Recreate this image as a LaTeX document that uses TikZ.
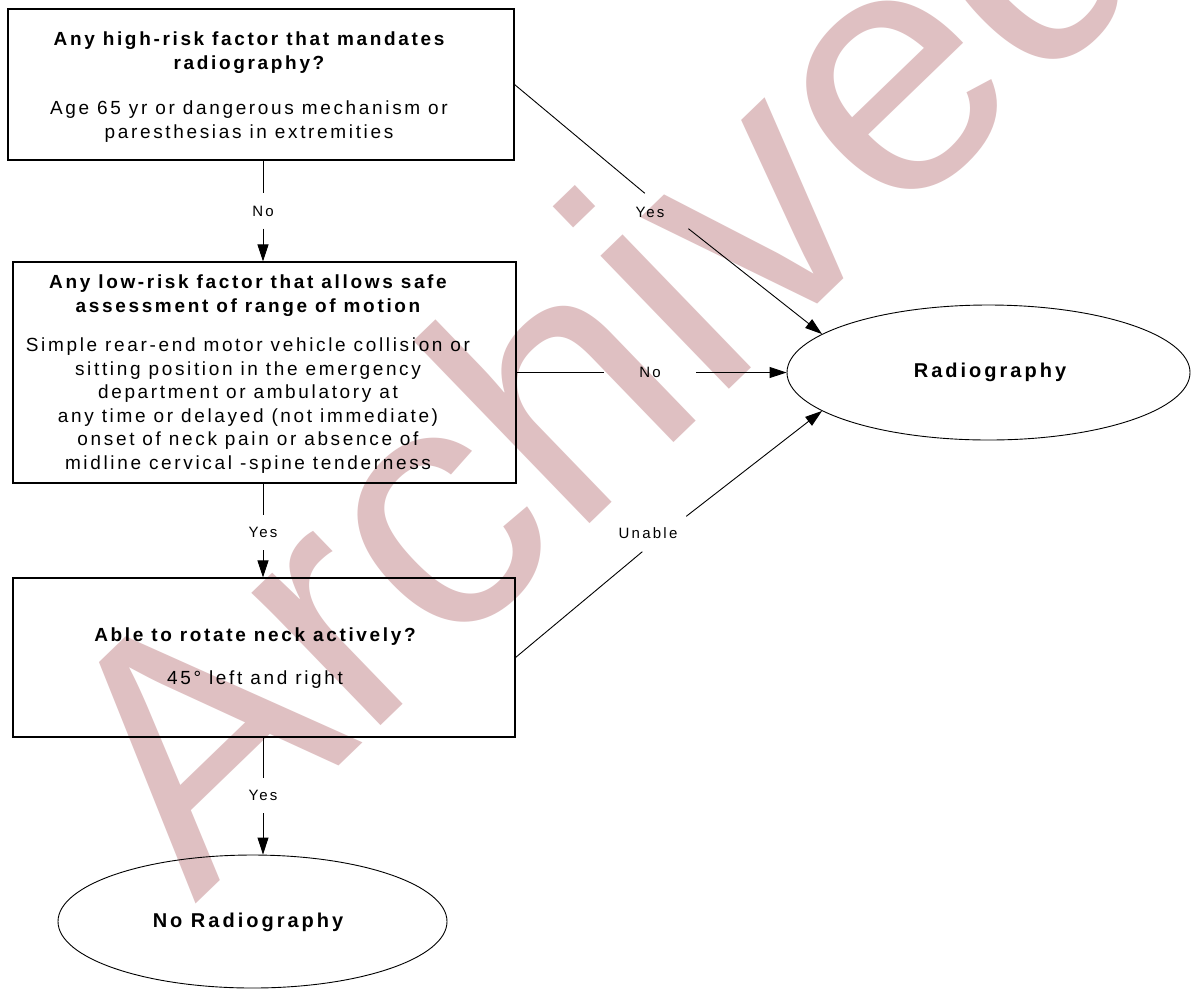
\documentclass[tikz,border=0pt]{standalone}
\usepackage{fontspec}
\setmainfont{Liberation Sans}
\newfontfamily\bodyf[LetterSpace=14]{Liberation Sans}
\newfontfamily\ellf[LetterSpace=15]{Liberation Sans}
\newfontfamily\lblf[LetterSpace=15]{Liberation Sans}
\newfontfamily\wmf{Liberation Sans}
\usetikzlibrary{arrows.meta,shapes.geometric}
\definecolor{wmcol}{RGB}{223,192,194}
\tikzset{
  box/.style={draw=black, line width=1.1pt, rectangle, inner sep=0pt},
  boxtext/.style={inner sep=0pt, align=center, font=\bodyf\fontsize{19}{24}\selectfont},
  endell/.style={draw=black, line width=0.9pt, ellipse, inner sep=0pt},
  elltext/.style={inner sep=0pt, font=\ellf\bfseries\fontsize{20}{24}\selectfont},
  gapnode/.style={rectangle, inner sep=0pt, minimum width=92pt, minimum height=35pt, font=\lblf\fontsize{15}{18}\selectfont},
  lbltext/.style={inner sep=0pt, font=\lblf\fontsize{15}{18}\selectfont},
  conn/.style={draw=black, line width=0.9pt},
  arr/.style={conn, -{Triangle[length=17pt,width=11pt]}},
  wmtext/.style={text=wmcol, font=\wmf\fontsize{350}{350}\selectfont, inner sep=0pt}
}
\begin{document}
\begin{tikzpicture}[x=1pt,y=-1pt]
\useasboundingbox (0,0) rectangle (1191,989);
\fill[white] (0,0) rectangle (1191,989);
% watermark
\node[wmtext, rotate=44, anchor=base west] (wmk) at (195,905) {Archived};
% boxes
\node[box, minimum width=506pt, minimum height=151pt] (b1) at (261,84.5) {};
\node[boxtext] (b1t) at (249,87)
  {{\bfseries Any high-risk factor that mandates}\\{\bfseries radiography?}\\[21pt]
   Age 65 yr or dangerous mechanism or\\paresthesias in extremities};
\node[box, minimum width=503pt, minimum height=221pt] (b2) at (264.5,372.5) {};
\node[boxtext, font=\bodyf\fontsize{19}{23.5}\selectfont] (b2t) at (248,374)
  {{\bfseries Any low-risk factor that allows safe}\\{\bfseries assessment of range of motion}\\[16pt]
   Simple rear-end motor vehicle collision or\\sitting position in the emergency\\department or ambulatory at\\
   any time or delayed (not immediate)\\onset of neck pain or absence of\\midline cervical -spine tenderness};
\node[box, minimum width=502pt, minimum height=159pt] (b3) at (264,657.5) {};
\node[boxtext] (b3t) at (255,658)
  {{\bfseries Able to rotate neck actively?}\\[19pt]45° left and right};
% end ellipses
\node[endell, minimum width=403pt, minimum height=135pt] (rad) at (988.5,372.5) {};
\node[elltext] (radt) at (990,372) {Radiography};
\node[endell, minimum width=389pt, minimum height=133pt] (nr) at (252.5,921.5) {};
\node[elltext] (nrt) at (248,922) {No Radiography};
% label gaps
\node[gapnode] (g1) at (263,211) {No};
\node[gapnode] (g2) at (263,532.5) {Yes};
\node[gapnode] (g3) at (263,795.5) {Yes};
\node[gapnode] (g4) at (666,211) {};
\node[lbltext] (t4) at (650,212) {Yes};
\node[gapnode] (g5) at (650,372.5) {No};
\node[gapnode] (g6) at (663.5,534) {};
\node[lbltext] (t6) at (648,533) {Unable};
% connectors
\draw[conn] (g1 |- b1.south) -- (g1);
\draw[arr] (g1) -- (g1 |- b2.north);
\draw[conn] (g2 |- b2.south) -- (g2);
\draw[arr] (g2) -- (g2 |- b3.north);
\draw[conn] (g3 |- b3.south) -- (g3);
\draw[arr] (g3) -- (g3 |- nr.north);
\draw[conn] (b1.east) -- (g4);
\draw[arr] (g4) -- (rad.167);
\draw[conn] (b2.east) -- (g5);
\draw[arr] (g5) -- (rad.west);
\draw[conn] (b3.east) -- (g6);
\draw[arr] (g6) -- (rad.193);
\end{tikzpicture}
\end{document}
